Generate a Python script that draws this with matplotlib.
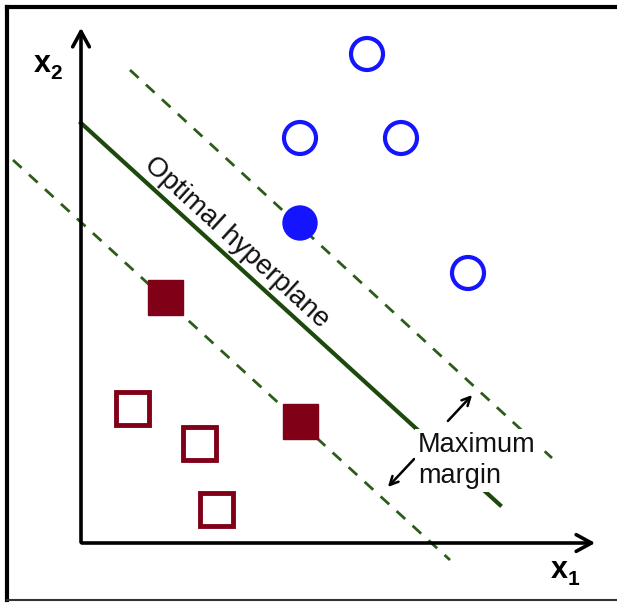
import matplotlib
matplotlib.use("Agg")
import matplotlib.pyplot as plt
from matplotlib.patches import Circle, Rectangle

plt.rcParams['font.family'] = ['Liberation Sans', 'DejaVu Sans']

# class +1 (blue circles), class -1 (red squares); image pixel coords
circ_open_x = [367, 300, 401, 468]
circ_open_y = [54, 138, 138, 273]
circ_sv_x = [300]
circ_sv_y = [223]
sq_open_x = [132, 199, 216]
sq_open_y = [408, 443, 509]
sq_sv_x = [165, 300]
sq_sv_y = [297, 421]

# hyperplane and margins (end points)
hyper_x = [81, 500]
hyper_y = [123, 505]
upper_x = [130, 552]
upper_y = [70, 458]
lower_x = [13, 450]
lower_y = [160, 560]

blue = '#1414ff'
red = '#800018'
green_solid = '#1d4a0c'
green_dash = '#2d5c18'

fig = plt.figure(figsize=(6.17, 6.03), dpi=100)
ax = fig.add_axes([0, 0, 1, 1])
ax.set_xlim(0, 617)
ax.set_ylim(603, 0)
ax.axis('off')

# border of the picture
ax.plot([6.5, 6.5], [600, 6.5], color='black', lw=3, solid_capstyle='projecting')
ax.plot([6.5, 617], [6.5, 6.5], color='black', lw=3)
ax.plot([6.5, 617], [600, 600], color='#333333', lw=1.5)

# axes with open arrowheads
ax.annotate('', xy=(81, 25), xytext=(81, 545),
            arrowprops=dict(arrowstyle='->,head_length=1.1,head_width=0.6', lw=2.6, color='black'))
ax.annotate('', xy=(598, 543), xytext=(79, 543),
            arrowprops=dict(arrowstyle='->,head_length=1.1,head_width=0.6', lw=2.6, color='black'))
ax.text(34, 72, 'x', fontsize=22, fontweight='bold', ha='left', va='baseline')
ax.text(50, 79, '2', fontsize=15, fontweight='bold', ha='left', va='baseline')
ax.text(551, 578, 'x', fontsize=22, fontweight='bold', ha='left', va='baseline')
ax.text(568, 585, '1', fontsize=15, fontweight='bold', ha='left', va='baseline')

# hyperplane and margins
ax.plot(hyper_x, hyper_y, color=green_solid, lw=3)
ax.plot(upper_x, upper_y, color=green_dash, lw=2, linestyle=(0, (4.2, 3.6)))
ax.plot(lower_x, lower_y, color=green_dash, lw=2, linestyle=(0, (4.2, 3.6)))

ax.text(237, 242, 'Optimal hyperplane', fontsize=20, rotation=-42.4,
        rotation_mode='anchor', ha='center', va='center', color='#111111')

# points, drawn above the lines
for x, y in zip(circ_open_x, circ_open_y):
    ax.add_patch(Circle((x, y), 16, facecolor='white', edgecolor=blue, lw=3, zorder=3))
for x, y in zip(circ_sv_x, circ_sv_y):
    ax.add_patch(Circle((x, y), 17, facecolor=blue, edgecolor=blue, lw=1, zorder=3))
for x, y in zip(sq_open_x, sq_open_y):
    ax.add_patch(Rectangle((x - 16.5, y - 16.5), 33, 33, facecolor='white', edgecolor=red, lw=3.5, zorder=3))
for x, y in zip(sq_sv_x, sq_sv_y):
    ax.add_patch(Rectangle((x - 17.5, y - 17.5), 35, 35, facecolor=red, edgecolor=red, lw=1, zorder=3))

# maximum margin label (white box hides the lines behind it)
box = dict(boxstyle='square,pad=0.12', facecolor='white', edgecolor='none')
ax.text(418, 452, 'Maximum', fontsize=19.5, ha='left', va='baseline', color='#111111', bbox=box, zorder=4)
ax.text(418, 483, 'margin', fontsize=19.5, ha='left', va='baseline', color='#111111', bbox=box, zorder=4)
ax.annotate('', xy=(474, 393), xytext=(446, 423),
            arrowprops=dict(arrowstyle='->,head_length=0.6,head_width=0.3', lw=1.8, color='black'))
ax.annotate('', xy=(386, 489), xytext=(416, 457),
            arrowprops=dict(arrowstyle='->,head_length=0.6,head_width=0.3', lw=1.8, color='black'))

fig.savefig('out.png', dpi=100)
